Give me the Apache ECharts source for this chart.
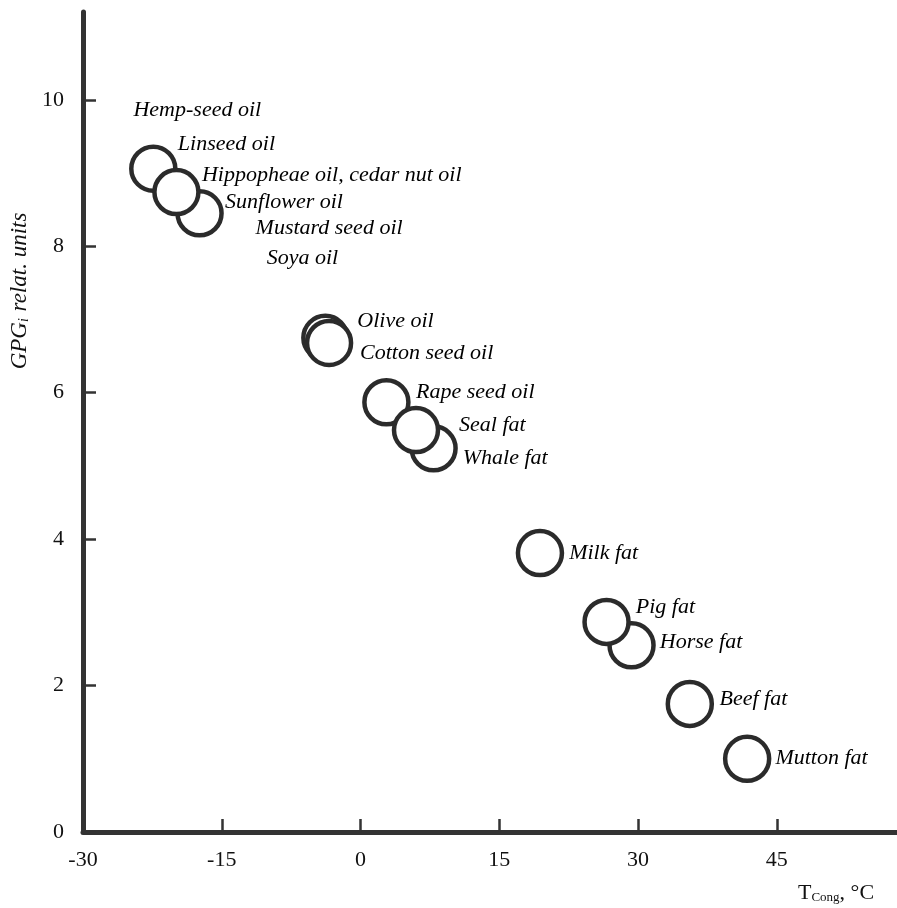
<!DOCTYPE html>
<html>
<head>
<meta charset="utf-8">
<script src="https://cdn.jsdelivr.net/npm/echarts@6/dist/echarts.min.js"></script>
<style>html,body{margin:0;padding:0;background:#fff}#c{width:897px;height:908px}</style>
</head>
<body>
<div id="c"></div>
<script>
// Circles (T_Cong, GPG_i), order = drawing order (later on top)
var pointNames = ['Linseed oil', 'Sunflower oil', 'Hippopheae oil', 'Olive oil', 'Cotton seed oil', 'Whale fat', 'Rape seed oil', 'Seal fat', 'Milk fat', 'Horse fat', 'Pig fat', 'Beef fat', 'Mutton fat'];
var pointX = [-22.4, -17.4, -19.9, -3.8, -3.4, 7.9, 2.8, 6.0, 19.4, 29.3, 26.6, 35.6, 41.8];
var pointY = [9.06, 8.45, 8.74, 6.75, 6.68, 5.24, 5.87, 5.49, 3.81, 2.55, 2.87, 1.75, 1.00];

// Text annotations (anchor = left/middle of text, in data coordinates)
var labelTexts = ['Hemp-seed oil', 'Linseed oil', 'Hippopheae oil, cedar nut oil', 'Sunflower oil', 'Mustard seed oil', 'Soya oil', 'Olive oil', 'Cotton seed oil', 'Rape seed oil', 'Seal fat', 'Whale fat', 'Milk fat', 'Pig fat', 'Horse fat', 'Beef fat', 'Mutton fat'];
var labelX = [-24.6, -19.8, -17.2, -14.7, -11.4, -10.2, -0.4, -0.1, 5.95, 10.6, 11.0, 22.5, 29.7, 32.3, 38.75, 44.8];
var labelY = [9.86, 9.39, 8.97, 8.60, 8.24, 7.84, 6.98, 6.54, 6.01, 5.56, 5.11, 3.81, 3.07, 2.59, 1.82, 1.01];

var xTicks = [-30, -15, 0, 15, 30, 45];
var yTicks = [0, 2, 4, 6, 8, 10];

var serif = 'Liberation Serif, Times New Roman, serif';
var chart = echarts.init(document.getElementById('c'), null, {renderer: 'canvas'});

var points = pointX.map(function (x, i) { return {name: pointNames[i], value: [x, pointY[i]]}; });
var labels = labelX.map(function (x, i) { return {name: labelTexts[i], value: [x, labelY[i]]}; });

chart.setOption({
  animation: false,
  backgroundColor: '#fff',
  grid: {left: 83, right: 0, top: 12, bottom: 76, containLabel: false},
  xAxis: {
    type: 'value', min: -30, max: 58,
    axisLine: {show: true, onZero: false, lineStyle: {color: '#333', width: 5}},
    splitLine: {show: false},
    axisTick: {show: true, inside: true, length: 13, customValues: xTicks, lineStyle: {color: '#333', width: 2.5}},
    axisLabel: {color: '#111', fontFamily: serif, fontSize: 22, margin: 17, customValues: xTicks}
  },
  yAxis: {
    type: 'value', min: 0, max: 11.2,
    axisLine: {show: true, onZero: false, lineStyle: {color: '#333', width: 5}},
    splitLine: {show: false},
    axisTick: {show: true, inside: true, length: 13, customValues: yTicks, lineStyle: {color: '#333', width: 2.5}},
    axisLabel: {color: '#111', fontFamily: serif, fontSize: 22, margin: 19, customValues: yTicks}
  },
  graphic: [
    {
      type: 'text', x: 20, y: 291, rotation: Math.PI / 2,
      style: {
        text: '{a|GPG}{s|i}{a| relat. units}',
        align: 'center', verticalAlign: 'middle',
        rich: {
          a: {fontFamily: serif, fontStyle: 'italic', fontSize: 23, fill: '#111'},
          s: {fontFamily: serif, fontStyle: 'italic', fontSize: 14, fill: '#111', verticalAlign: 'bottom', padding: [9, 1, 0, 0]}
        }
      }
    },
    {
      type: 'text', x: 798, y: 893,
      style: {
        text: '{a|T}{s|Cong}{a|, °C}',
        align: 'left', verticalAlign: 'middle',
        rich: {
          a: {fontFamily: serif, fontSize: 22, fill: '#111'},
          s: {fontFamily: serif, fontSize: 13, fill: '#111', verticalAlign: 'bottom', padding: [9, 0, 0, 0]}
        }
      }
    }
  ],
  series: [
    {
      type: 'scatter', data: points, symbol: 'circle', symbolSize: 44,
      itemStyle: {color: '#fff', borderColor: '#2b2b2b', borderWidth: 4.5, opacity: 1},
      z: 2, silent: true
    },
    {
      type: 'scatter', data: labels, symbol: 'circle', symbolSize: 1,
      itemStyle: {color: 'rgba(0,0,0,0)'},
      label: {
        show: true, position: 'right', distance: 0, opacity: 1,
        formatter: function (p) { return p.name; },
        fontFamily: serif, fontStyle: 'italic', fontSize: 22, color: '#000',
        textBorderWidth: 0, textBorderColor: 'transparent'
      },
      z: 3, silent: true
    }
  ]
});
</script>
</body>
</html>
